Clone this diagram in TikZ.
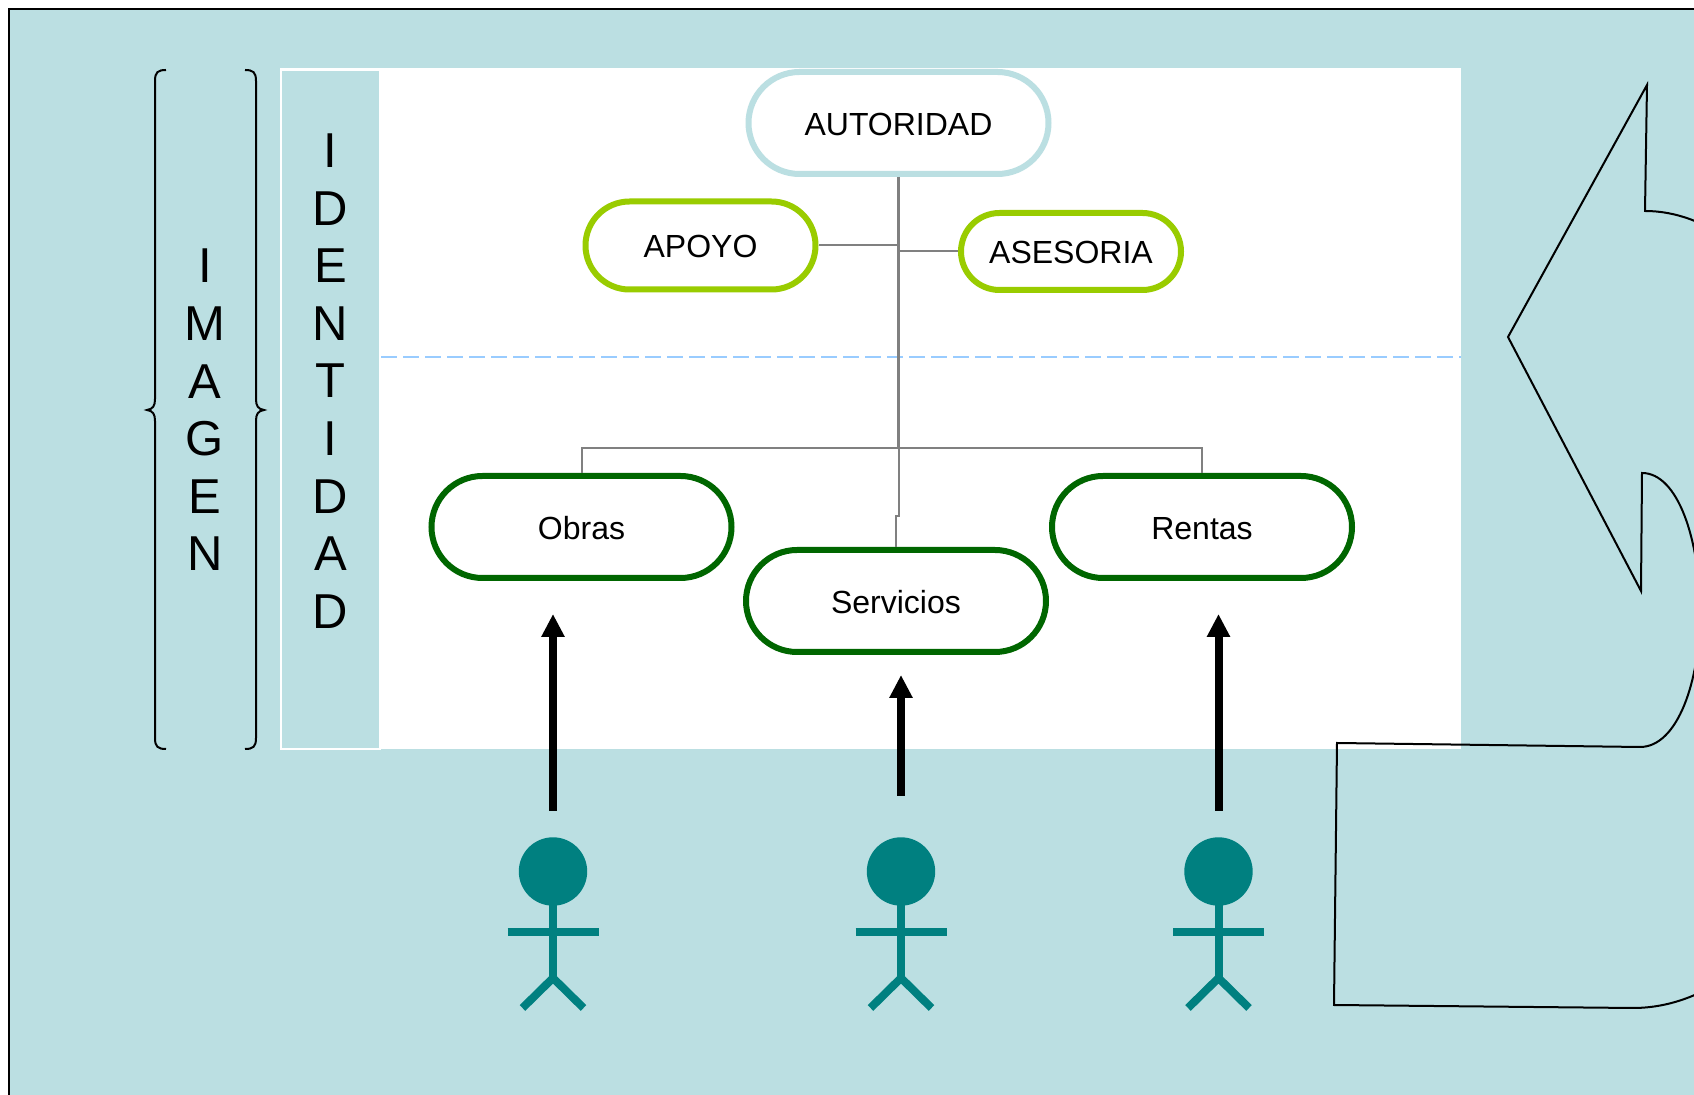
\documentclass[tikz,border=0pt]{standalone}
\usepackage{fontspec}
\setmainfont{Liberation Sans}
\usetikzlibrary{shapes.misc,arrows.meta}
\definecolor{bgteal}{HTML}{BBDFE2}
\definecolor{lime}{HTML}{99CC00}
\definecolor{dkgreen}{HTML}{006600}
\definecolor{actor}{HTML}{008080}
\definecolor{connector}{HTML}{808080}
\definecolor{dashblue}{HTML}{99CCFF}
\tikzset{
  pill/.style={rounded rectangle,rounded rectangle arc length=180,draw,fill=white,line width=3pt,text=black,font=\fontsize{16pt}{20pt}\selectfont,inner sep=0pt,text height=12.3pt,text depth=0pt},
  autpill/.style={pill,draw=bgteal,minimum width=150pt,minimum height=51pt},
  limepill/.style={pill,draw=lime},
  unitpill/.style={pill,draw=dkgreen,minimum width=150pt,minimum height=51pt},
  link/.style={draw=connector,line width=1pt},
  trunk/.style={draw=connector,line width=1.5pt},
  uparrow/.style={draw=black,line width=4pt,-{Triangle[length=11.5pt,width=11pt]}},
  vletters/.style={align=center,font=\fontsize{24.5pt}{28.8pt}\selectfont,text=black,inner sep=0pt,anchor=center},
  actorline/.style={draw=actor,line width=4pt},
  thinblack/.style={draw=black,line width=1pt}
}
\begin{document}
\begin{tikzpicture}[x=0.5pt,y=-0.5pt]
\useasboundingbox (0,0) rectangle (1694,1095);
\clip (0,0) rectangle (1694,1095);
\fill[white] (0,0) rectangle (1694,1095);
\path[fill=bgteal,draw=black,line width=1pt] (9,1200) -- (9,9) -- (1800,9) -- (1800,1200) -- cycle;
% white panel and identity column
\fill[white] (280,68) rectangle (1461,749);
\path[fill=bgteal,draw=white,line width=1.3pt] (281,70) rectangle (380,749);
\draw[dashblue,line width=0.8pt,dash pattern=on 8pt off 3pt] (381,357) -- (1461,357);
% nodes
\node[autpill] (aut) at (898.5,123) {AUTORIDAD};
\node[limepill,minimum width=115pt,minimum height=44pt] (apo) at (700.5,245.5) {APOYO};
\node[limepill,minimum width=110pt,minimum height=38.5pt] (ase) at (1071,251.5) {ASESORIA};
\node[unitpill] (obr) at (581.5,527) {Obras};
\node[unitpill] (ser) at (896,601) {Servicios};
\node[unitpill] (ren) at (1202,527) {Rentas};
% connectors
\coordinate (bus) at (898.5,448);
\coordinate (jog) at (898.5,516);
\draw[trunk] (aut.south) -- (bus);
\draw[link] (bus) -- (jog) -- (jog -| ser.north) -- (ser.north);
\draw[link] (apo.east) -- (apo.east -| aut.south);
\draw[link] (ase.west) -- (ase.west -| aut.south);
\draw[link] (obr.north) -- (obr.north |- bus) -- (ren.north |- bus) -- (ren.north);
% vertical words
\node[vletters] (identidad) at (330.5,381) {I\\D\\E\\N\\T\\I\\D\\A\\D};
\node[vletters] (imagen) at (205,410) {I\\M\\A\\G\\E\\N};
% braces
\draw[thinblack] (166,70) .. controls (158,70) and (155,72) .. (155,81) -- (155,399) .. controls (155,406) and (153,409) .. (147,410) .. controls (153,411) and (155,414) .. (155,421) -- (155,738) .. controls (155,747) and (158,749) .. (166,749);
\draw[thinblack] (245,70) .. controls (253,70) and (256,72) .. (256,81) -- (256,399) .. controls (256,406) and (258,409) .. (264,410) .. controls (258,411) and (256,414) .. (256,421) -- (256,738) .. controls (256,747) and (253,749) .. (245,749);
% U-turn arrow
\draw[thinblack,line join=miter] (1508,337) -- (1647,85) -- (1645,211)
  .. controls (1770,211) and (1880,400) .. (1880,609)
  .. controls (1880,820) and (1770,1008) .. (1633,1008)
  -- (1334,1005) -- (1337,743) -- (1640,747)
  .. controls (1678,747) and (1700,680) .. (1700,613)
  .. controls (1700,540) and (1678,473) .. (1642,473)
  -- (1641,591) -- cycle;
% arrows and actors
\foreach \n/\cx/\ty/\by in {a/553/614/811,b/901/675/796,c/1218.5/614/811}{
  \coordinate (from\n) at (\cx,\by);
  \coordinate (to\n) at (\cx,\ty);
  \draw[uparrow] (from\n) -- (to\n);
  \fill[actor] (\cx,871.5) circle[radius=17.1pt];
  \draw[actorline] (\cx,900) -- (\cx,978);
  \draw[actorline] (\cx-45.5,932) -- (\cx+45.5,932);
  \draw[actorline] (\cx-30.5,1008) -- (\cx,978) -- (\cx+30.5,1008);
}
\end{tikzpicture}
\end{document}
